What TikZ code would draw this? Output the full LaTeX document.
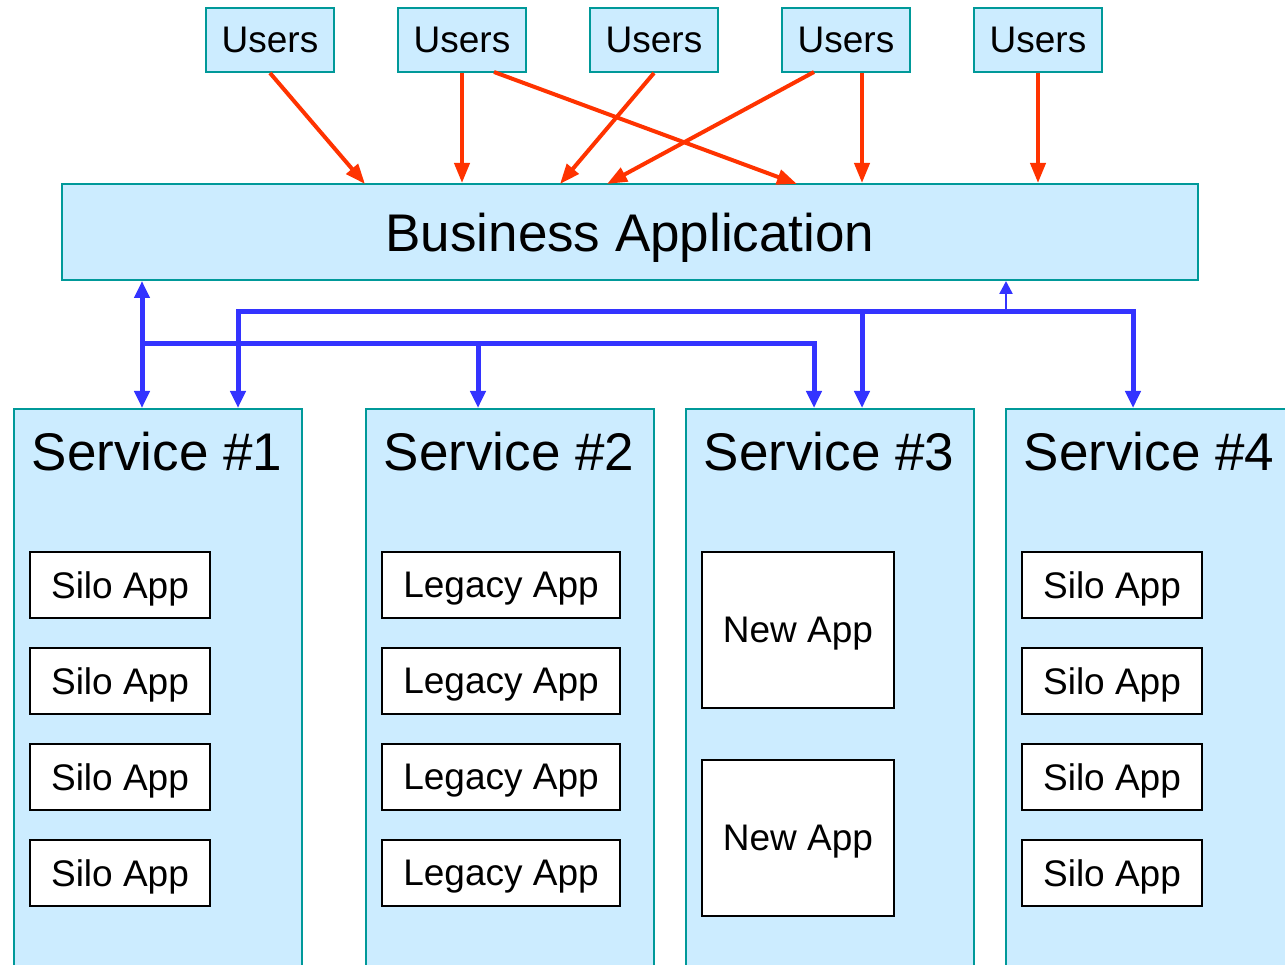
\documentclass[tikz,border=0pt]{standalone}
\usepackage{fontspec}
\setmainfont{Liberation Sans}
\usetikzlibrary{arrows.meta}
\definecolor{paleblue}{HTML}{CCECFF}
\definecolor{tealline}{HTML}{009999}
\definecolor{userred}{HTML}{FF3300}
\definecolor{busblue}{HTML}{3333FF}
\begin{document}
\begin{tikzpicture}[x=1pt, y=-1pt,
    users/.style = {draw=tealline, fill=paleblue, line width=2pt, minimum width=128pt, minimum height=64pt, inner sep=0pt, text depth=0pt, font=\fontsize{37}{40}\selectfont},
    biz/.style = {draw=tealline, fill=paleblue, line width=2pt, minimum width=1136pt, minimum height=96pt, inner sep=0pt, text depth=0pt, font=\fontsize{53}{58}\selectfont},
    service/.style = {draw=tealline, fill=paleblue, line width=2pt, minimum width=288pt, minimum height=620pt, inner sep=0pt, anchor=north},
    svctitle/.style = {inner sep=0pt, anchor=base, font=\fontsize{53}{60}\selectfont},
    app/.style = {draw=black, fill=white, line width=2pt, minimum height=66pt, inner sep=0pt, text depth=0pt, font=\fontsize{37}{40}\selectfont},
    toapp/.style = {draw=userred, line width=4pt, -{Triangle[length=20pt, width=15pt]}},
    bus/.style = {draw=busblue, line width=5pt},
    bustip/.style = {-{Triangle[length=17pt, width=15pt]}},
    busthin/.style = {draw=busblue, line width=2.5pt, -{Triangle[length=13pt, width=13pt]}}]

    \useasboundingbox (0,0) rectangle (1285,965);
    \clip (0,0) rectangle (1285,965);

    \node [users] (u1) at (270, 40) {Users};
    \node [users] (u2) at (462, 40) {Users};
    \node [users] (u3) at (654, 40) {Users};
    \node [users] (u4) at (846, 40) {Users};
    \node [users] (u5) at (1038, 40) {Users};

    \node [biz] (biz) at (630, 232) {Business Application};

    \node [service] (s1) at (158, 408) {};
    \node [service] (s2) at (510, 408) {};
    \node [service] (s3) at (830, 408) {};
    \node [service] (s4) at (1150, 408) {};

    \node [svctitle] (t1) at (157, 470) {Service \#1};
    \node [svctitle] (t2) at (509, 470) {Service \#2};
    \node [svctitle] (t3) at (829, 470) {Service \#3};
    \node [svctitle] (t4) at (1149, 470) {Service \#4};

    \foreach \y/\n in {585/1, 681/2, 777/3, 873/4} {
        \node [app, minimum width=180pt] (silo1\n) at (120, \y) {Silo App};
        \node [app, minimum width=238pt] (legacy\n) at (501, \y) {Legacy App};
        \node [app, minimum width=180pt] (silo4\n) at (1112, \y) {Silo App};
    }
    \node [app, minimum width=192pt, minimum height=156pt] (new1) at (798, 630) {New App};
    \node [app, minimum width=192pt, minimum height=156pt] (new2) at (798, 838) {New App};

    % user links
    \coordinate (b1) at (365, 184);
    \coordinate (b3) at (560, 184);
    \coordinate (b4) at (797, 184);
    \coordinate (b5) at (607, 184);
    \coordinate (u2r) at (494, 72);
    \coordinate (u4l) at (814, 72);

    \draw[toapp] (u1.south) to (b1);
    \draw[toapp] (u2.south) to (u2.south |- biz.north);
    \draw[toapp] (u3.south) to (b3);
    \draw[toapp] (u2r) to (b4);
    \draw[toapp] (u4l) to (b5);
    \draw[toapp] ([xshift=16pt]u4.south) to ([xshift=16pt]u4.south |- biz.north);
    \draw[toapp] (u5.south) to (u5.south |- biz.north);

    % service bus
    \coordinate (c1) at (142, 0);
    \coordinate (c2) at (238, 0);
    \coordinate (c3) at (478, 0);
    \coordinate (c4) at (814, 0);
    \coordinate (c5) at (862, 0);
    \coordinate (c6) at (1133, 0);
    \coordinate (c7) at (1006, 0);
    \coordinate (ra) at (0, 344);
    \coordinate (rb) at (0, 312);

    \draw[bus, {Triangle[length=17pt, width=15pt]}-{Triangle[length=17pt, width=15pt]}] (biz.south -| c1) to (s1.north -| c1);
    \draw[bus, bustip] (c1 |- ra) -| (s3.north -| c4);
    \draw[bus, bustip] (c3 |- ra) to (s2.north -| c3);
    \draw[bus, {Triangle[length=17pt, width=15pt]}-{Triangle[length=17pt, width=15pt]}] (s1.north -| c2) |- (c6 |- rb) to (s4.north -| c6);
    \draw[bus, bustip] (c5 |- rb) to (s3.north -| c5);
    \draw[busthin] (c7 |- rb) to (biz.south -| c7);

\end{tikzpicture}
\end{document}
